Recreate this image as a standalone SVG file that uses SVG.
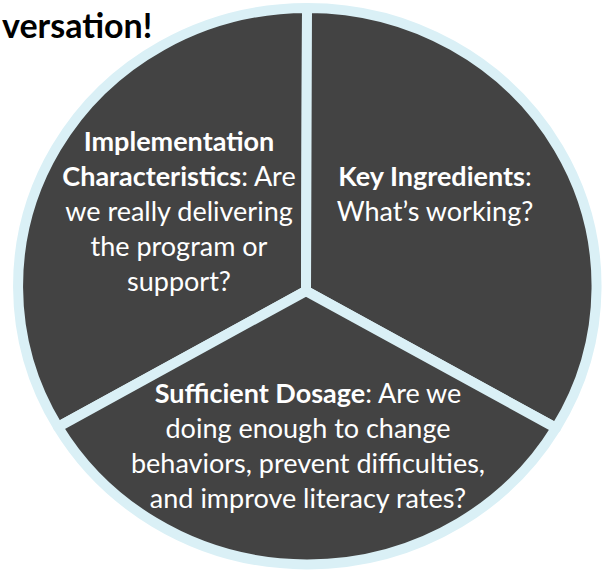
<svg xmlns="http://www.w3.org/2000/svg" width="608" height="571" viewBox="0 0 608 571">
<style>
.sector{fill:#434343;stroke:#daf0f6;stroke-width:10;stroke-linejoin:round}
.t{font-family:Lato,"Open Sans","Liberation Sans",sans-serif;font-size:27px;fill:#ffffff;text-anchor:middle}
.b{font-weight:bold}
.title{font-family:Lato,"Liberation Sans",sans-serif;font-size:34px;font-weight:bold;fill:#000000}
</style>
<rect width="608" height="571" fill="#ffffff"/>
<text class="title" x="2" y="38">versation!</text>
<g id="implementation">
<path class="sector" d="M306 291 L58 427 A289 278 0 0 1 307 8 Z"/>
<text class="t"><tspan x="179" y="151" class="b">Implementation</tspan><tspan x="179" y="186"><tspan class="b">Characteristics</tspan>: Are</tspan><tspan x="179" y="221">we really delivering</tspan><tspan x="179" y="256">the program or</tspan><tspan x="179" y="291">support?</tspan></text>
</g>
<g id="key-ingredients">
<path class="sector" d="M306 291 L307 8 A289 278 0 0 1 556 428 Z"/>
<text class="t"><tspan x="435" y="186"><tspan class="b">Key Ingredients</tspan>:</tspan><tspan x="435" y="221">What’s working?</tspan></text>
</g>
<g id="sufficient-dosage">
<path class="sector" d="M306 291 L556 428 A289 278 0 0 1 58 427 Z"/>
<text class="t"><tspan x="308" y="403"><tspan class="b">Sufficient Dosage</tspan>: Are we</tspan><tspan x="308" y="438">doing enough to change</tspan><tspan x="308" y="473">behaviors, prevent difficulties,</tspan><tspan x="308" y="508">and improve literacy rates?</tspan></text>
</g>
<g id="connectors"></g>
</svg>
